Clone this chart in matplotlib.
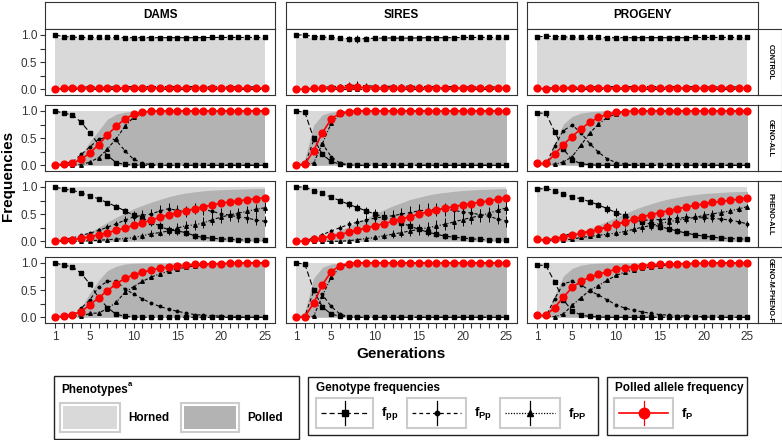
import matplotlib
matplotlib.use("Agg")
import matplotlib.pyplot as plt
from matplotlib.patches import Rectangle
from matplotlib.lines import Line2D

plt.rcParams['font.family'] = ['Liberation Sans', 'DejaVu Sans']
plt.rcParams['mathtext.fontset'] = 'custom'
plt.rcParams['mathtext.bf'] = 'Liberation Sans:bold'
plt.rcParams['mathtext.rm'] = 'Liberation Sans'

# generations and facets
gens = list(range(1, 26))
cols = ['DAMS', 'SIRES', 'PROGENY']
rows = ['CONTROL', 'GENO-ALL', 'PHENO-ALL', 'GENO-M-PHENO-F']
xtick_labels = {1: '1', 5: '5', 10: '10', 15: '15', 20: '20', 25: '25'}
horned_top = [0.94, 1.0, 1.0, 1.0]

# ---- CONTROL ----
d_ctrl_pp = [1.00, 0.97, 0.96, 0.955, 0.955, 0.955, 0.955, 0.955, 0.95, 0.95, 0.95, 0.95, 0.95, 0.95, 0.95, 0.95, 0.95, 0.95, 0.955, 0.955, 0.955, 0.955, 0.955, 0.955, 0.955]
d_ctrl_Pp = [0.00, 0.03, 0.04, 0.045, 0.045, 0.045, 0.045, 0.045, 0.05, 0.05, 0.05, 0.05, 0.05, 0.05, 0.05, 0.05, 0.05, 0.05, 0.045, 0.045, 0.045, 0.045, 0.045, 0.045, 0.045]
d_ctrl_PP = [0.0, 0.0, 0.0, 0.0, 0.0, 0.0, 0.0, 0.0, 0.0, 0.0, 0.0, 0.0, 0.0, 0.0, 0.0, 0.0, 0.0, 0.0, 0.0, 0.0, 0.0, 0.0, 0.0, 0.0, 0.0]
d_ctrl_P = [0.00, 0.015, 0.02, 0.022, 0.022, 0.022, 0.022, 0.022, 0.025, 0.025, 0.025, 0.025, 0.025, 0.025, 0.025, 0.025, 0.025, 0.025, 0.022, 0.022, 0.022, 0.022, 0.022, 0.022, 0.022]
d_ctrl_sd = [0.0, 0.005, 0.008, 0.01, 0.012, 0.015, 0.018, 0.02, 0.024, 0.027, 0.03, 0.03, 0.032, 0.032, 0.033, 0.033, 0.033, 0.032, 0.032, 0.03, 0.03, 0.03, 0.03, 0.03, 0.03]
d_ctrl_polled = [0.0, 0.02, 0.03, 0.03, 0.03, 0.03, 0.03, 0.03, 0.03, 0.03, 0.03, 0.03, 0.03, 0.03, 0.03, 0.03, 0.03, 0.03, 0.03, 0.03, 0.03, 0.03, 0.03, 0.03, 0.03]

s_ctrl_pp = [1.00, 1.00, 0.97, 0.96, 0.955, 0.94, 0.93, 0.925, 0.935, 0.94, 0.945, 0.945, 0.94, 0.945, 0.945, 0.95, 0.95, 0.95, 0.95, 0.955, 0.955, 0.955, 0.955, 0.955, 0.955]
s_ctrl_Pp = [0.00, 0.00, 0.03, 0.04, 0.045, 0.06, 0.07, 0.075, 0.065, 0.06, 0.055, 0.055, 0.06, 0.055, 0.055, 0.05, 0.05, 0.05, 0.05, 0.045, 0.045, 0.045, 0.045, 0.045, 0.045]
s_ctrl_PP = [0.0, 0.0, 0.0, 0.0, 0.0, 0.0, 0.0, 0.0, 0.0, 0.0, 0.0, 0.0, 0.0, 0.0, 0.0, 0.0, 0.0, 0.0, 0.0, 0.0, 0.0, 0.0, 0.0, 0.0, 0.0]
s_ctrl_P = [0.00, 0.00, 0.015, 0.02, 0.022, 0.03, 0.035, 0.038, 0.033, 0.03, 0.028, 0.028, 0.03, 0.028, 0.028, 0.025, 0.025, 0.025, 0.025, 0.023, 0.023, 0.023, 0.023, 0.023, 0.023]
s_ctrl_sd = [0.0, 0.0, 0.01, 0.015, 0.02, 0.03, 0.06, 0.08, 0.05, 0.035, 0.03, 0.03, 0.035, 0.03, 0.03, 0.025, 0.025, 0.025, 0.02, 0.02, 0.02, 0.02, 0.02, 0.02, 0.02]
s_ctrl_polled = [0.0, 0.0, 0.02, 0.03, 0.03, 0.03, 0.03, 0.03, 0.03, 0.03, 0.03, 0.03, 0.03, 0.03, 0.03, 0.03, 0.03, 0.03, 0.03, 0.03, 0.03, 0.03, 0.03, 0.03, 0.03]

p_ctrl_pp = [0.96, 0.98, 0.97, 0.965, 0.96, 0.96, 0.955, 0.955, 0.95, 0.95, 0.95, 0.95, 0.95, 0.95, 0.95, 0.95, 0.95, 0.95, 0.955, 0.955, 0.955, 0.955, 0.955, 0.955, 0.955]
p_ctrl_Pp = [0.04, 0.02, 0.03, 0.035, 0.04, 0.04, 0.045, 0.045, 0.05, 0.05, 0.05, 0.05, 0.05, 0.05, 0.05, 0.05, 0.05, 0.05, 0.045, 0.045, 0.045, 0.045, 0.045, 0.045, 0.045]
p_ctrl_PP = [0.0, 0.0, 0.0, 0.0, 0.0, 0.0, 0.0, 0.0, 0.0, 0.0, 0.0, 0.0, 0.0, 0.0, 0.0, 0.0, 0.0, 0.0, 0.0, 0.0, 0.0, 0.0, 0.0, 0.0, 0.0]
p_ctrl_P = [0.02, 0.01, 0.015, 0.018, 0.02, 0.02, 0.022, 0.022, 0.025, 0.025, 0.025, 0.025, 0.025, 0.025, 0.025, 0.025, 0.025, 0.025, 0.022, 0.022, 0.022, 0.022, 0.022, 0.022, 0.022]
p_ctrl_sd = [0.005, 0.005, 0.008, 0.01, 0.012, 0.015, 0.018, 0.02, 0.022, 0.025, 0.028, 0.03, 0.03, 0.03, 0.03, 0.03, 0.03, 0.028, 0.028, 0.027, 0.026, 0.025, 0.025, 0.025, 0.025]
p_ctrl_polled = [0.03, 0.02, 0.03, 0.03, 0.03, 0.03, 0.03, 0.03, 0.03, 0.03, 0.03, 0.03, 0.03, 0.03, 0.03, 0.03, 0.03, 0.03, 0.03, 0.03, 0.03, 0.03, 0.03, 0.03, 0.03]

# ---- GENO-ALL ----
d_geno_pp = [1.00, 0.96, 0.93, 0.79, 0.60, 0.38, 0.18, 0.05, 0.015, 0.005, 0.0, 0.0, 0.0, 0.0, 0.0, 0.0, 0.0, 0.0, 0.0, 0.0, 0.0, 0.0, 0.0, 0.0, 0.0]
d_geno_Pp = [0.00, 0.04, 0.06, 0.20, 0.34, 0.48, 0.52, 0.46, 0.27, 0.11, 0.04, 0.01, 0.0, 0.0, 0.0, 0.0, 0.0, 0.0, 0.0, 0.0, 0.0, 0.0, 0.0, 0.0, 0.0]
d_geno_PP = [0.00, 0.00, 0.01, 0.01, 0.06, 0.14, 0.30, 0.49, 0.715, 0.885, 0.96, 0.99, 1.0, 1.0, 1.0, 1.0, 1.0, 1.0, 1.0, 1.0, 1.0, 1.0, 1.0, 1.0, 1.0]
d_geno_P = [0.00, 0.02, 0.04, 0.11, 0.23, 0.38, 0.56, 0.72, 0.85, 0.94, 0.98, 0.995, 1.0, 1.0, 1.0, 1.0, 1.0, 1.0, 1.0, 1.0, 1.0, 1.0, 1.0, 1.0, 1.0]
d_geno_polled = [0.00, 0.02, 0.06, 0.18, 0.44, 0.64, 0.85, 0.94, 0.98, 0.995, 1.0, 1.0, 1.0, 1.0, 1.0, 1.0, 1.0, 1.0, 1.0, 1.0, 1.0, 1.0, 1.0, 1.0, 1.0]

s_geno_pp = [1.00, 0.975, 0.50, 0.20, 0.07, 0.02, 0.005, 0.0, 0.0, 0.0, 0.0, 0.0, 0.0, 0.0, 0.0, 0.0, 0.0, 0.0, 0.0, 0.0, 0.0, 0.0, 0.0, 0.0, 0.0]
s_geno_Pp = [0.00, 0.01, 0.46, 0.40, 0.16, 0.04, 0.01, 0.0, 0.0, 0.0, 0.0, 0.0, 0.0, 0.0, 0.0, 0.0, 0.0, 0.0, 0.0, 0.0, 0.0, 0.0, 0.0, 0.0, 0.0]
s_geno_PP = [0.00, 0.015, 0.04, 0.40, 0.77, 0.94, 0.985, 1.0, 1.0, 1.0, 1.0, 1.0, 1.0, 1.0, 1.0, 1.0, 1.0, 1.0, 1.0, 1.0, 1.0, 1.0, 1.0, 1.0, 1.0]
s_geno_P = [0.00, 0.02, 0.27, 0.60, 0.85, 0.96, 0.99, 1.0, 1.0, 1.0, 1.0, 1.0, 1.0, 1.0, 1.0, 1.0, 1.0, 1.0, 1.0, 1.0, 1.0, 1.0, 1.0, 1.0, 1.0]
s_geno_polled = [0.00, 0.12, 0.74, 0.93, 0.98, 0.995, 1.0, 1.0, 1.0, 1.0, 1.0, 1.0, 1.0, 1.0, 1.0, 1.0, 1.0, 1.0, 1.0, 1.0, 1.0, 1.0, 1.0, 1.0, 1.0]

p_geno_pp = [0.96, 0.96, 0.62, 0.30, 0.10, 0.03, 0.01, 0.0, 0.0, 0.0, 0.0, 0.0, 0.0, 0.0, 0.0, 0.0, 0.0, 0.0, 0.0, 0.0, 0.0, 0.0, 0.0, 0.0, 0.0]
p_geno_Pp = [0.01, 0.01, 0.36, 0.64, 0.74, 0.60, 0.40, 0.24, 0.12, 0.05, 0.02, 0.0, 0.0, 0.0, 0.0, 0.0, 0.0, 0.0, 0.0, 0.0, 0.0, 0.0, 0.0, 0.0, 0.0]
p_geno_PP = [0.03, 0.03, 0.02, 0.06, 0.16, 0.37, 0.59, 0.76, 0.88, 0.95, 0.98, 1.0, 1.0, 1.0, 1.0, 1.0, 1.0, 1.0, 1.0, 1.0, 1.0, 1.0, 1.0, 1.0, 1.0]
p_geno_P = [0.035, 0.035, 0.20, 0.38, 0.53, 0.67, 0.79, 0.88, 0.94, 0.975, 0.99, 1.0, 1.0, 1.0, 1.0, 1.0, 1.0, 1.0, 1.0, 1.0, 1.0, 1.0, 1.0, 1.0, 1.0]
p_geno_polled = [0.04, 0.04, 0.40, 0.76, 0.90, 0.96, 0.985, 0.995, 1.0, 1.0, 1.0, 1.0, 1.0, 1.0, 1.0, 1.0, 1.0, 1.0, 1.0, 1.0, 1.0, 1.0, 1.0, 1.0, 1.0]

# ---- PHENO-ALL ----
d_pheno_pp = [1.00, 0.96, 0.94, 0.89, 0.84, 0.78, 0.71, 0.64, 0.56, 0.48, 0.42, 0.36, 0.28, 0.21, 0.19, 0.16, 0.10, 0.07, 0.055, 0.045, 0.035, 0.03, 0.02, 0.02, 0.015]
d_pheno_Pp = [0.00, 0.04, 0.06, 0.11, 0.15, 0.20, 0.26, 0.32, 0.39, 0.45, 0.48, 0.50, 0.56, 0.60, 0.57, 0.55, 0.60, 0.59, 0.55, 0.51, 0.48, 0.45, 0.43, 0.39, 0.37]
d_pheno_PP = [0.00, 0.00, 0.00, 0.00, 0.01, 0.02, 0.03, 0.04, 0.05, 0.07, 0.10, 0.14, 0.16, 0.19, 0.24, 0.29, 0.30, 0.34, 0.395, 0.445, 0.485, 0.52, 0.55, 0.59, 0.615]
d_pheno_P = [0.00, 0.02, 0.03, 0.055, 0.085, 0.12, 0.16, 0.20, 0.245, 0.295, 0.34, 0.39, 0.44, 0.49, 0.525, 0.565, 0.60, 0.635, 0.67, 0.70, 0.725, 0.745, 0.765, 0.785, 0.80]
d_pheno_pp_sd = [0.0, 0.01, 0.01, 0.015, 0.02, 0.03, 0.04, 0.05, 0.06, 0.07, 0.08, 0.08, 0.08, 0.08, 0.07, 0.06, 0.05, 0.04, 0.03, 0.025, 0.02, 0.015, 0.01, 0.01, 0.01]
d_pheno_Pp_sd = [0.0, 0.01, 0.015, 0.02, 0.03, 0.04, 0.05, 0.06, 0.07, 0.08, 0.09, 0.09, 0.1, 0.1, 0.1, 0.1, 0.1, 0.1, 0.1, 0.1, 0.1, 0.09, 0.09, 0.09, 0.09]
d_pheno_PP_sd = [0.0, 0.0, 0.0, 0.005, 0.01, 0.015, 0.02, 0.025, 0.03, 0.04, 0.05, 0.06, 0.07, 0.08, 0.09, 0.09, 0.1, 0.1, 0.1, 0.1, 0.1, 0.1, 0.1, 0.1, 0.1]
d_pheno_polled = [0.0, 0.02, 0.05, 0.10, 0.17, 0.26, 0.35, 0.44, 0.52, 0.60, 0.66, 0.72, 0.77, 0.82, 0.86, 0.89, 0.91, 0.93, 0.94, 0.95, 0.955, 0.96, 0.965, 0.97, 0.97]

s_pheno_pp = [1.00, 1.00, 0.93, 0.88, 0.81, 0.75, 0.68, 0.62, 0.56, 0.50, 0.45, 0.40, 0.34, 0.28, 0.22, 0.17, 0.13, 0.095, 0.075, 0.06, 0.045, 0.035, 0.025, 0.02, 0.015]
s_pheno_Pp = [0.00, 0.00, 0.07, 0.12, 0.19, 0.25, 0.31, 0.35, 0.39, 0.43, 0.45, 0.47, 0.50, 0.53, 0.56, 0.58, 0.59, 0.59, 0.57, 0.54, 0.52, 0.49, 0.46, 0.41, 0.37]
s_pheno_PP = [0.00, 0.00, 0.00, 0.00, 0.00, 0.00, 0.01, 0.03, 0.05, 0.07, 0.10, 0.13, 0.16, 0.19, 0.22, 0.25, 0.28, 0.315, 0.355, 0.40, 0.435, 0.475, 0.515, 0.57, 0.615]
s_pheno_P = [0.00, 0.00, 0.035, 0.06, 0.095, 0.125, 0.165, 0.205, 0.245, 0.285, 0.325, 0.365, 0.41, 0.455, 0.50, 0.54, 0.575, 0.61, 0.64, 0.67, 0.695, 0.72, 0.745, 0.775, 0.80]
s_pheno_pp_sd = [0.0, 0.0, 0.02, 0.03, 0.04, 0.05, 0.06, 0.07, 0.08, 0.09, 0.09, 0.09, 0.09, 0.09, 0.08, 0.07, 0.06, 0.05, 0.04, 0.03, 0.03, 0.02, 0.02, 0.015, 0.01]
s_pheno_Pp_sd = [0.0, 0.0, 0.02, 0.03, 0.04, 0.05, 0.07, 0.08, 0.09, 0.1, 0.11, 0.11, 0.12, 0.12, 0.12, 0.12, 0.12, 0.12, 0.12, 0.11, 0.11, 0.11, 0.1, 0.1, 0.1]
s_pheno_PP_sd = [0.0, 0.0, 0.0, 0.0, 0.01, 0.015, 0.02, 0.03, 0.04, 0.05, 0.06, 0.07, 0.08, 0.09, 0.1, 0.1, 0.11, 0.11, 0.12, 0.12, 0.12, 0.12, 0.12, 0.12, 0.12]
s_pheno_polled = [0.0, 0.0, 0.05, 0.09, 0.14, 0.20, 0.27, 0.35, 0.43, 0.51, 0.58, 0.65, 0.71, 0.77, 0.81, 0.85, 0.88, 0.90, 0.92, 0.935, 0.945, 0.955, 0.96, 0.965, 0.97]

p_pheno_pp = [0.957, 0.975, 0.93, 0.865, 0.82, 0.78, 0.73, 0.67, 0.60, 0.53, 0.47, 0.41, 0.36, 0.31, 0.27, 0.23, 0.19, 0.15, 0.12, 0.095, 0.075, 0.06, 0.05, 0.045, 0.04]
p_pheno_Pp = [0.016, 0.00, 0.04, 0.11, 0.14, 0.15, 0.18, 0.22, 0.27, 0.32, 0.35, 0.37, 0.38, 0.40, 0.40, 0.41, 0.42, 0.44, 0.44, 0.43, 0.42, 0.41, 0.39, 0.36, 0.32]
p_pheno_PP = [0.027, 0.025, 0.03, 0.025, 0.04, 0.07, 0.09, 0.11, 0.13, 0.15, 0.18, 0.22, 0.26, 0.29, 0.33, 0.36, 0.39, 0.41, 0.44, 0.475, 0.505, 0.53, 0.56, 0.595, 0.64]
p_pheno_P = [0.035, 0.025, 0.05, 0.08, 0.11, 0.145, 0.18, 0.22, 0.265, 0.31, 0.355, 0.405, 0.45, 0.49, 0.53, 0.565, 0.60, 0.63, 0.66, 0.69, 0.715, 0.735, 0.755, 0.775, 0.80]
p_pheno_pp_sd = [0.01, 0.01, 0.015, 0.02, 0.03, 0.04, 0.05, 0.06, 0.07, 0.08, 0.08, 0.08, 0.08, 0.07, 0.06, 0.05, 0.05, 0.04, 0.03, 0.03, 0.02, 0.02, 0.015, 0.015, 0.01]
p_pheno_Pp_sd = [0.01, 0.01, 0.02, 0.03, 0.04, 0.05, 0.06, 0.07, 0.08, 0.09, 0.09, 0.09, 0.09, 0.09, 0.09, 0.08, 0.08, 0.08, 0.08, 0.07, 0.07, 0.06, 0.06, 0.05, 0.05]
p_pheno_PP_sd = [0.01, 0.01, 0.01, 0.01, 0.015, 0.02, 0.03, 0.04, 0.05, 0.06, 0.07, 0.07, 0.08, 0.08, 0.08, 0.08, 0.08, 0.08, 0.08, 0.08, 0.07, 0.07, 0.06, 0.06, 0.05]
p_pheno_polled = [0.04, 0.03, 0.06, 0.10, 0.14, 0.19, 0.24, 0.30, 0.37, 0.44, 0.51, 0.58, 0.64, 0.69, 0.74, 0.78, 0.81, 0.84, 0.86, 0.88, 0.89, 0.90, 0.91, 0.915, 0.92]

# ---- GENO-M-PHENO-F ----
d_gmpf_pp = [1.00, 0.96, 0.93, 0.81, 0.61, 0.36, 0.18, 0.055, 0.02, 0.005, 0.0, 0.0, 0.0, 0.0, 0.0, 0.0, 0.0, 0.0, 0.0, 0.0, 0.0, 0.0, 0.0, 0.0, 0.0]
d_gmpf_Pp = [0.00, 0.03, 0.04, 0.17, 0.32, 0.56, 0.66, 0.67, 0.52, 0.43, 0.34, 0.26, 0.20, 0.15, 0.11, 0.08, 0.05, 0.04, 0.03, 0.02, 0.01, 0.0, 0.0, 0.0, 0.0]
d_gmpf_PP = [0.00, 0.01, 0.03, 0.02, 0.07, 0.08, 0.16, 0.275, 0.46, 0.565, 0.66, 0.74, 0.80, 0.85, 0.89, 0.92, 0.95, 0.96, 0.97, 0.98, 0.99, 1.0, 1.0, 1.0, 1.0]
d_gmpf_P = [0.00, 0.025, 0.05, 0.105, 0.23, 0.36, 0.49, 0.61, 0.72, 0.78, 0.83, 0.87, 0.90, 0.925, 0.945, 0.96, 0.975, 0.98, 0.985, 0.99, 0.995, 1.0, 1.0, 1.0, 1.0]
d_gmpf_polled = [0.00, 0.02, 0.06, 0.18, 0.45, 0.68, 0.86, 0.94, 0.98, 0.995, 1.0, 1.0, 1.0, 1.0, 1.0, 1.0, 1.0, 1.0, 1.0, 1.0, 1.0, 1.0, 1.0, 1.0, 1.0]

s_gmpf_pp = [1.00, 0.98, 0.50, 0.19, 0.06, 0.02, 0.005, 0.0, 0.0, 0.0, 0.0, 0.0, 0.0, 0.0, 0.0, 0.0, 0.0, 0.0, 0.0, 0.0, 0.0, 0.0, 0.0, 0.0, 0.0]
s_gmpf_Pp = [0.00, 0.02, 0.48, 0.42, 0.20, 0.06, 0.01, 0.0, 0.0, 0.0, 0.0, 0.0, 0.0, 0.0, 0.0, 0.0, 0.0, 0.0, 0.0, 0.0, 0.0, 0.0, 0.0, 0.0, 0.0]
s_gmpf_PP = [0.00, 0.00, 0.02, 0.39, 0.74, 0.92, 0.985, 1.0, 1.0, 1.0, 1.0, 1.0, 1.0, 1.0, 1.0, 1.0, 1.0, 1.0, 1.0, 1.0, 1.0, 1.0, 1.0, 1.0, 1.0]
s_gmpf_P = [0.00, 0.01, 0.26, 0.60, 0.84, 0.95, 0.99, 1.0, 1.0, 1.0, 1.0, 1.0, 1.0, 1.0, 1.0, 1.0, 1.0, 1.0, 1.0, 1.0, 1.0, 1.0, 1.0, 1.0, 1.0]
s_gmpf_polled = [0.00, 0.10, 0.72, 0.92, 0.98, 0.995, 1.0, 1.0, 1.0, 1.0, 1.0, 1.0, 1.0, 1.0, 1.0, 1.0, 1.0, 1.0, 1.0, 1.0, 1.0, 1.0, 1.0, 1.0, 1.0]

p_gmpf_pp = [0.957, 0.957, 0.65, 0.32, 0.12, 0.04, 0.015, 0.005, 0.0, 0.0, 0.0, 0.0, 0.0, 0.0, 0.0, 0.0, 0.0, 0.0, 0.0, 0.0, 0.0, 0.0, 0.0, 0.0, 0.0]
p_gmpf_Pp = [0.016, 0.016, 0.34, 0.62, 0.66, 0.60, 0.49, 0.41, 0.32, 0.23, 0.17, 0.13, 0.10, 0.07, 0.05, 0.04, 0.03, 0.02, 0.014, 0.01, 0.0, 0.0, 0.0, 0.0, 0.0]
p_gmpf_PP = [0.027, 0.027, 0.01, 0.06, 0.22, 0.36, 0.495, 0.585, 0.68, 0.77, 0.83, 0.87, 0.90, 0.93, 0.95, 0.96, 0.97, 0.98, 0.986, 0.99, 1.0, 1.0, 1.0, 1.0, 1.0]
p_gmpf_P = [0.035, 0.035, 0.18, 0.37, 0.55, 0.66, 0.74, 0.79, 0.84, 0.885, 0.915, 0.935, 0.95, 0.965, 0.975, 0.98, 0.985, 0.99, 0.993, 0.995, 1.0, 1.0, 1.0, 1.0, 1.0]
p_gmpf_polled = [0.04, 0.04, 0.40, 0.76, 0.90, 0.96, 0.985, 0.995, 1.0, 1.0, 1.0, 1.0, 1.0, 1.0, 1.0, 1.0, 1.0, 1.0, 1.0, 1.0, 1.0, 1.0, 1.0, 1.0, 1.0]

panels = {
    ('DAMS', 'CONTROL'): dict(pp=d_ctrl_pp, Pp=d_ctrl_Pp, PP=d_ctrl_PP, P=d_ctrl_P, polled=d_ctrl_polled,
                              sd_pp=d_ctrl_sd, sd_Pp=d_ctrl_sd, sd_PP=None),
    ('SIRES', 'CONTROL'): dict(pp=s_ctrl_pp, Pp=s_ctrl_Pp, PP=s_ctrl_PP, P=s_ctrl_P, polled=s_ctrl_polled,
                               sd_pp=s_ctrl_sd, sd_Pp=s_ctrl_sd, sd_PP=None),
    ('PROGENY', 'CONTROL'): dict(pp=p_ctrl_pp, Pp=p_ctrl_Pp, PP=p_ctrl_PP, P=p_ctrl_P, polled=p_ctrl_polled,
                                 sd_pp=p_ctrl_sd, sd_Pp=p_ctrl_sd, sd_PP=None),
    ('DAMS', 'GENO-ALL'): dict(pp=d_geno_pp, Pp=d_geno_Pp, PP=d_geno_PP, P=d_geno_P, polled=d_geno_polled),
    ('SIRES', 'GENO-ALL'): dict(pp=s_geno_pp, Pp=s_geno_Pp, PP=s_geno_PP, P=s_geno_P, polled=s_geno_polled),
    ('PROGENY', 'GENO-ALL'): dict(pp=p_geno_pp, Pp=p_geno_Pp, PP=p_geno_PP, P=p_geno_P, polled=p_geno_polled),
    ('DAMS', 'PHENO-ALL'): dict(pp=d_pheno_pp, Pp=d_pheno_Pp, PP=d_pheno_PP, P=d_pheno_P, polled=d_pheno_polled,
                                sd_pp=d_pheno_pp_sd, sd_Pp=d_pheno_Pp_sd, sd_PP=d_pheno_PP_sd),
    ('SIRES', 'PHENO-ALL'): dict(pp=s_pheno_pp, Pp=s_pheno_Pp, PP=s_pheno_PP, P=s_pheno_P, polled=s_pheno_polled,
                                 sd_pp=s_pheno_pp_sd, sd_Pp=s_pheno_Pp_sd, sd_PP=s_pheno_PP_sd),
    ('PROGENY', 'PHENO-ALL'): dict(pp=p_pheno_pp, Pp=p_pheno_Pp, PP=p_pheno_PP, P=p_pheno_P, polled=p_pheno_polled,
                                   sd_pp=p_pheno_pp_sd, sd_Pp=p_pheno_Pp_sd, sd_PP=p_pheno_PP_sd),
    ('DAMS', 'GENO-M-PHENO-F'): dict(pp=d_gmpf_pp, Pp=d_gmpf_Pp, PP=d_gmpf_PP, P=d_gmpf_P, polled=d_gmpf_polled),
    ('SIRES', 'GENO-M-PHENO-F'): dict(pp=s_gmpf_pp, Pp=s_gmpf_Pp, PP=s_gmpf_PP, P=s_gmpf_P, polled=s_gmpf_polled),
    ('PROGENY', 'GENO-M-PHENO-F'): dict(pp=p_gmpf_pp, Pp=p_gmpf_Pp, PP=p_gmpf_PP, P=p_gmpf_P, polled=p_gmpf_polled),
}

# colours / styles
LIGHT = '#d9d9d9'
DARK = '#b3b3b3'
EDGE = '#333333'
KEYEDGE = '#cccccc'
styles = {
    'PP': dict(marker='^', ms=2.6, ls=(0, (3, 1.5, 1, 1.5))),
    'Pp': dict(marker='o', ms=1.8, ls=(0, (3, 2.5))),
    'pp': dict(marker='s', ms=2.2, ls=(0, (5, 2.5))),
}

W, H = 782, 440
fig = plt.figure(figsize=(W / 100, H / 100), dpi=100)


def box(x0, y0, x1, y1):
    return [x0 / W, 1 - y1 / H, (x1 - x0) / W, (y1 - y0) / H]


col_px = [(45, 275), (286, 517), (527, 758)]
row_px = [(29, 95), (105, 171), (181, 247), (257, 323)]

for ci, cname in enumerate(cols):
    cx0, cx1 = col_px[ci]
    # column strip
    sax = fig.add_axes(box(cx0, 2, cx1, 29))
    sax.set_xticks([]); sax.set_yticks([])
    sax.set_facecolor('white')
    for sp in sax.spines.values():
        sp.set_color(EDGE); sp.set_linewidth(0.8)
    sax.text(0.5, 0.5, cname, ha='center', va='center', fontsize=8.5, fontweight='bold',
             transform=sax.transAxes)

    for ri, rname in enumerate(rows):
        ry0, ry1 = row_px[ri]
        d = panels[(cname, rname)]
        ax = fig.add_axes(box(cx0, ry0, cx1, ry1))
        ax.fill_between(gens, 0, horned_top[ri], color=LIGHT, lw=0, zorder=0)
        ax.fill_between(gens, 0, d['polled'], color=DARK, lw=0, zorder=1)
        for key in ['PP', 'Pp', 'pp']:
            sd = d.get('sd_' + key)
            if sd is not None:
                ax.errorbar(gens, d[key], yerr=sd, color='black', lw=0.8, elinewidth=0.7,
                            capsize=0, zorder=3, **styles[key])
            else:
                ax.plot(gens, d[key], color='black', lw=0.8, zorder=3, **styles[key])
        ax.plot(gens, d['P'], color='#ff0000', lw=1.2, marker='o', ms=4.9, zorder=5)

        ax.set_xlim(-0.15, 26.2)
        ax.set_ylim(-0.105, 1.11)
        for sp in ax.spines.values():
            sp.set_color(EDGE); sp.set_linewidth(0.8)
        ax.tick_params(colors=EDGE, labelcolor=EDGE, labelsize=8.5, length=3.5, width=0.8, pad=2)
        if ci == 0:
            ax.set_yticks([0, 0.25, 0.5, 0.75, 1.0])
            ax.set_yticklabels(['0.0', '', '0.5', '', '1.0'])
        else:
            ax.set_yticks([])
        if ri == len(rows) - 1:
            ax.set_xticks(gens)
            ax.set_xticklabels([xtick_labels.get(g, '') for g in gens])
        else:
            ax.set_xticks([])

        if ci == len(cols) - 1:
            rax = fig.add_axes(box(758, ry0, 782, ry1))
            rax.set_xticks([]); rax.set_yticks([])
            rax.set_facecolor('white')
            for sp in rax.spines.values():
                sp.set_color(EDGE); sp.set_linewidth(0.8)
            rax.text(0.5, 0.5, rname, ha='center', va='center', rotation=-90, fontsize=5.2,
                     fontweight='bold', transform=rax.transAxes, clip_on=True)

fig.text(8 / W, 1 - 176 / H, 'Frequencies', rotation=90, ha='center', va='center',
         fontsize=11, fontweight='bold')
fig.text(401 / W, 1 - 354 / H, 'Generations', ha='center', va='center',
         fontsize=11, fontweight='bold')

# ---- legends, drawn in pixel coordinates ----
lg = fig.add_axes([0, 0, 1, 1])
lg.set_xlim(0, W); lg.set_ylim(H, 0)
lg.axis('off')

for (x0, y0, x1, y1) in [(54, 376, 299, 439), (308, 377, 598, 435), (607, 377, 747, 435)]:
    lg.add_patch(Rectangle((x0, y0), x1 - x0, y1 - y0, fc='white', ec='#222222', lw=1.0))

lg.text(61, 390, 'Phenotypes', fontsize=8.5, fontweight='bold', va='center')
lg.text(128, 384, 'a', fontsize=5.5, fontweight='bold', va='center')
for (kx0, kx1, fc, lab) in [(60, 120, LIGHT, 'Horned'), (181, 239, DARK, 'Polled')]:
    lg.add_patch(Rectangle((kx0, 403), kx1 - kx0, 29, fc='white', ec=KEYEDGE, lw=1.5))
    lg.add_patch(Rectangle((kx0 + 3, 406), kx1 - kx0 - 6, 23, fc=fc, ec='none'))
    lg.text(kx1 + 8, 418, lab, fontsize=8.5, fontweight='bold', va='center')

lg.text(316, 388, 'Genotype frequencies', fontsize=8.5, fontweight='bold', va='center')
lg.text(615, 388, 'Polled allele frequency', fontsize=8.5, fontweight='bold', va='center')

gkeys = [
    (316, 373, 'black', (0, (4, 2.5)), 's', 4.5, r'$\mathbf{f}_{\mathbf{pp}}$'),
    (407, 466, 'black', (0, (3, 2.5)), 'o', 3.2, r'$\mathbf{f}_{\mathbf{Pp}}$'),
    (500, 560, 'black', (0, (1, 1.2)), '^', 5.0, r'$\mathbf{f}_{\mathbf{PP}}$'),
    (614, 673, '#ff0000', '-', 'o', 7.5, r'$\mathbf{f}_{\mathbf{P}}$'),
]
for (kx0, kx1, c, ls, mk, ms, lab) in gkeys:
    lg.add_patch(Rectangle((kx0, 398), kx1 - kx0, 30, fc='white', ec=KEYEDGE, lw=1.5))
    xm = (kx0 + kx1) / 2
    lg.add_line(Line2D([kx0 + 5, kx1 - 5], [413, 413], color=c, ls=ls, lw=0.9 if c == 'black' else 1.2))
    lg.add_line(Line2D([xm, xm], [401, 425], color=c, lw=0.9))
    lg.add_line(Line2D([xm], [413], color=c, marker=mk, ms=ms, ls='none'))
    lg.text(kx1 + 8, 414, lab, fontsize=9.5, va='center')

fig.savefig('out.png', dpi=100)
